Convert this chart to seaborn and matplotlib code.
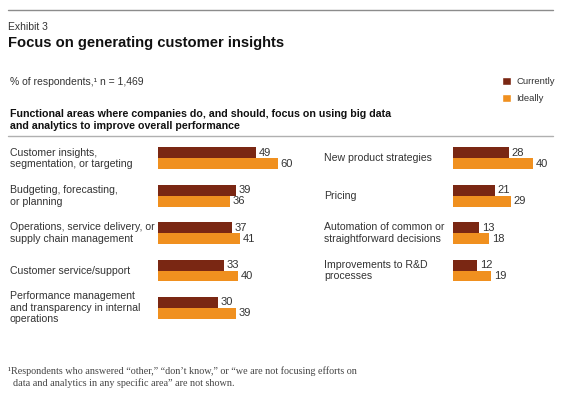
import pandas as pd
import matplotlib
matplotlib.use("Agg")
import matplotlib.pyplot as plt
import matplotlib.transforms as mtransforms
from matplotlib.lines import Line2D
from matplotlib.patches import Patch
import seaborn as sns

# data (% of respondents)
left_areas = ["Customer insights,\nsegmentation, or targeting",
              "Budgeting, forecasting,\nor planning",
              "Operations, service delivery, or\nsupply chain management",
              "Customer service/support",
              "Performance management\nand transparency in internal\noperations"]
left_currently = [49, 39, 37, 33, 30]
left_ideally = [60, 36, 41, 40, 39]

right_areas = ["New product strategies",
               "Pricing",
               "Automation of common or\nstraightforward decisions",
               "Improvements to R&D\nprocesses"]
right_currently = [28, 21, 13, 12]
right_ideally = [40, 29, 18, 19]

series = ["Currently", "Ideally"]
colors = ["#7a2713", "#f0901f"]

sns.set_style("white")
plt.rcParams["font.family"] = ["Liberation Sans", "DejaVu Sans"]

W, H = 565, 396
fig = plt.figure(figsize=(W / 100, H / 100), dpi=100)


def fy(px):
    return 1 - px / H


def rect(x0, top, w, h):
    return [x0 / W, 1 - (top + h) / H, w / W, h / H]


pitch = 37.4
label_color = "#333333"


def panel(areas, cur, ideal, x0, label_x, xmax):
    n = len(areas)
    ax = fig.add_axes(rect(x0, 139.6, 2 * xmax, n * pitch))
    df = pd.DataFrame({
        "area": areas * 2,
        "value": cur + ideal,
        "series": [series[0]] * n + [series[1]] * n,
    })
    sns.barplot(data=df, y="area", x="value", hue="series", palette=colors,
                orient="h", width=0.58, saturation=1, linewidth=0,
                ax=ax, legend=False)
    ax.set_xlim(0, xmax)
    ax.set_ylim(n - 0.5, -0.5)
    ax.axis("off")
    for c in ax.containers:
        ax.bar_label(c, padding=2, fontsize=8, color=label_color)
    tr = mtransforms.blended_transform_factory(fig.transFigure, ax.transData)
    for i, a in enumerate(areas):
        ax.text(label_x / W, i, a, transform=tr, ha="left", va="center",
                fontsize=7.6, color=label_color, linespacing=1.2)
    return ax


panel(left_areas, left_currently, left_ideally, 158, 10, 70)
panel(right_areas, right_currently, right_ideally, 453, 324, 50)

# header
fig.add_artist(Line2D([8 / W, 553 / W], [fy(10), fy(10)], color="#8c8c8c", lw=1))
fig.text(8 / W, fy(27), "Exhibit 3", fontsize=7.5, color="#333333", va="center")
fig.text(8 / W, fy(43.5), "Focus on generating customer insights", fontsize=10.6,
         fontweight="bold", color="#111111", va="center")
fig.text(10 / W, fy(82), "% of respondents,\u00b9 n = 1,469", fontsize=7.5,
         color="#333333", va="center")
fig.text(10 / W, fy(120),
         "Functional areas where companies do, and should, focus on using big data\n"
         "and analytics to improve overall performance",
         fontsize=7.7, fontweight="bold", color="#111111", va="center", linespacing=1.2)
fig.add_artist(Line2D([8 / W, 553 / W], [fy(136), fy(136)], color="#b0b0b0", lw=1))

handles = [Patch(facecolor=colors[0], label=series[0]),
           Patch(facecolor=colors[1], label=series[1])]
fig.legend(handles=handles, loc="upper left", bbox_to_anchor=(502 / W, fy(77)),
           frameon=False, fontsize=6.8, handlelength=0.9, handleheight=0.9,
           handletextpad=0.6, labelspacing=0.8, borderaxespad=0, borderpad=0,
           labelcolor="#333333")

# footnote
fig.text(8 / W, fy(377),
         "\u00b9Respondents who answered \u201cother,\u201d \u201cdon\u2019t know,\u201d or \u201cwe are not focusing efforts on\n"
         "  data and analytics in any specific area\u201d are not shown.",
         fontsize=7.3, family=["Liberation Serif", "DejaVu Serif"], color="#444444",
         va="center", linespacing=1.3)

fig.savefig("out.png", dpi=100)
